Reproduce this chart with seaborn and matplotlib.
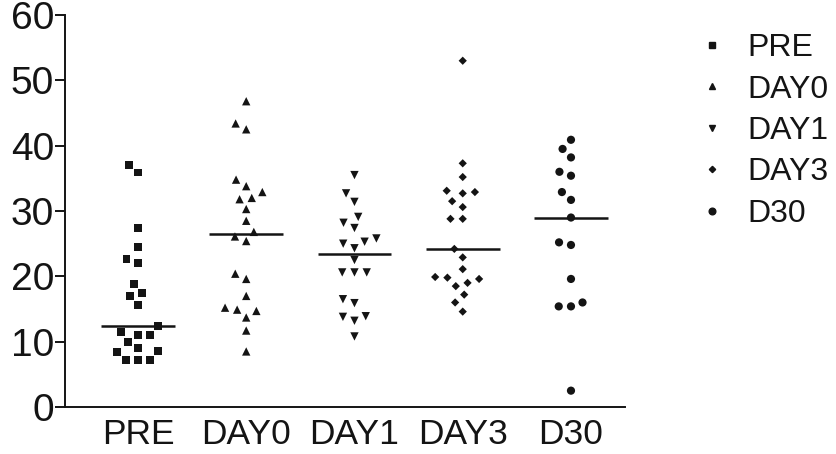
import numpy as np
import pandas as pd
import matplotlib
matplotlib.use("Agg")
import matplotlib.pyplot as plt
import seaborn as sns
from matplotlib.lines import Line2D

categories = ["PRE", "DAY0", "DAY1", "DAY3", "D30"]
pre = [37.1, 35.9, 27.4, 24.5, 22.6, 22.0, 18.8, 17.5, 17.0, 15.6, 12.4,
       11.5, 11.0, 11.0, 10.0, 9.0, 8.6, 8.4, 7.2, 7.2, 7.2]
day0 = [46.8, 43.4, 42.5, 34.8, 33.8, 32.9, 32.0, 31.8, 30.3, 28.5, 26.8,
        26.1, 25.4, 20.4, 19.6, 17.0, 15.2, 14.9, 14.7, 13.7, 11.7, 8.5]
day1 = [35.5, 32.7, 31.4, 29.1, 28.2, 27.4, 25.8, 25.3, 25.0, 24.3, 22.5,
        20.6, 20.6, 20.6, 16.5, 15.9, 13.9, 13.8, 13.2, 10.8]
day3 = [53.0, 37.3, 35.2, 33.1, 32.9, 32.7, 31.5, 30.6, 28.8, 28.8, 24.2,
        22.9, 21.1, 19.9, 19.8, 19.6, 19.0, 18.5, 17.2, 16.0, 14.6]
d30 = [40.9, 39.5, 38.2, 36.0, 35.4, 32.9, 31.7, 29.0, 25.2, 24.8, 19.6,
       16.0, 15.4, 15.4, 2.5]
y_ticks = [0, 10, 20, 30, 40, 50, 60]

series = [pre, day0, day1, day3, d30]
markers = ["s", "^", "v", "D", "o"]
msizes = [5.6, 6.0, 6.0, 4.2, 5.9]
legend_sizes = [4.2, 4.4, 4.4, 3.2, 4.8]

sns.set_theme(style="white")
plt.rcParams["font.family"] = ["Liberation Sans", "DejaVu Sans"]

df = pd.DataFrame(
    [(c, v) for c, vals in zip(categories, series) for v in vals],
    columns=["group", "value"],
)

ink = "#141414"
fig = plt.figure(figsize=(8.36, 4.54), dpi=100)
ax = fig.add_axes([65 / 836, 47 / 454, 560 / 836, 392 / 454])

for cat, m, s in zip(categories, markers, msizes):
    sub = df[df["group"] == cat]
    sns.swarmplot(data=sub, x="group", y="value", order=categories,
                  marker=m, size=s, color=ink, edgecolor="none",
                  linewidth=8.4 - s, ax=ax, zorder=3)

sns.boxplot(data=df, x="group", y="value", order=categories, width=0.68,
            showbox=False, showcaps=False, showfliers=False,
            whiskerprops={"visible": False},
            medianprops={"color": ink, "linewidth": 1.8},
            ax=ax, zorder=2)

ax.set_xlim(-0.674, 4.499)
ax.set_ylim(0, 60)
ax.set_yticks(y_ticks)
ax.set_xlabel("")
ax.set_ylabel("")
for side in ["top", "right"]:
    ax.spines[side].set_visible(False)
for side in ["left", "bottom"]:
    ax.spines[side].set_color(ink)
    ax.spines[side].set_linewidth(1.4)
ax.tick_params(axis="y", length=7, width=1.4, color=ink, labelsize=28,
               pad=1, direction="out", left=True, labelcolor=ink)
ax.tick_params(axis="x", length=0, labelsize=25.5, pad=8, labelcolor=ink)

handles = [Line2D([], [], marker=m, ls="none", color=ink, markersize=s)
           for m, s in zip(markers, legend_sizes)]
fig.legend(handles, categories, loc="upper left",
           bbox_to_anchor=(696 / 836, 1 - 33 / 454), frameon=False,
           fontsize=23, handlelength=1.0, handletextpad=0.62,
           labelspacing=0.36, borderaxespad=0, borderpad=0,
           labelcolor=ink)

fig.savefig("out.png", dpi=100)
